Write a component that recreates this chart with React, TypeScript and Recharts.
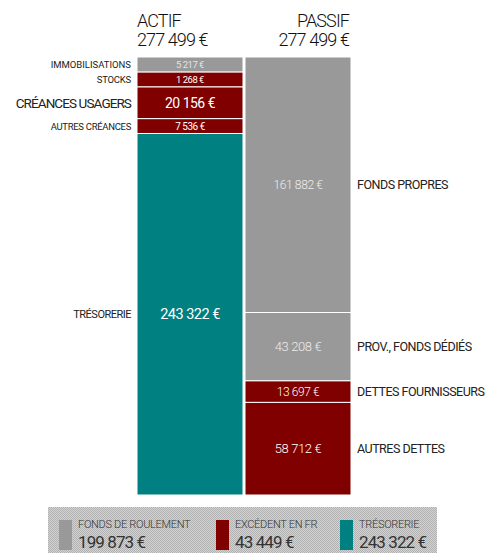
import { BarChart, Bar, XAxis, YAxis, LabelList } from 'recharts';

const columns = ['ACTIF', 'PASSIF'];
const columnTotals = [277499, 277499];

const actifLabels = ['IMMOBILISATIONS', 'STOCKS', 'CRÉANCES USAGERS', 'AUTRES CRÉANCES', 'TRÉSORERIE'];
const actifValues = [5217, 1268, 20156, 7536, 243322];

const passifLabels = ['FONDS PROPRES', 'PROV., FONDS DÉDIÉS', 'DETTES FOURNISSEURS', 'AUTRES DETTES'];
const passifValues = [161882, 43208, 13697, 58712];

const legendLabels = ['FONDS DE ROULEMENT', 'EXCÉDENT EN FR', 'TRÉSORERIE'];
const legendValues = [199873, 43449, 243322];

// styles
const FONT = "Roboto, 'Noto Sans', sans-serif";
const LIGHT = 300;
const GRAY = '#999999';
const RED = '#800000';
const TEAL = '#008080';
const actifColors = [GRAY, RED, RED, RED, TEAL];
const passifColors = [GRAY, GRAY, RED, RED];
const legendColors = [GRAY, RED, TEAL];
const actifNameSize = [9.5, 9.5, 13.5, 9.5, 11];
const actifNameSpacing = [0, -0.2, -0.9, -0.3, -0.5];
const actifValueSize = [9.5, 9.5, 14, 10, 14.5];
const passifValueSize = [12, 13, 12, 13];
const PASSIF_NAME_SIZE = 12.5;
const HALF_BAR = 53;

// small segments get a minimum height, the largest asset absorbs the difference
const MIN_SHARE = 0.034;
const actifDrawn = actifValues.map((v, i) =>
  i < actifValues.length - 1 ? Math.max(v, columnTotals[0] * MIN_SHARE) : 0
);
actifDrawn[actifDrawn.length - 1] =
  columnTotals[0] - actifDrawn.slice(0, -1).reduce((s, v) => s + v, 0);

const fmt = (v: number) => v.toString().replace(/\B(?=(\d{3})+(?!\d))/g, ' ') + ' €';

const rows = columns.map((name, c) => {
  const row: Record<string, string | number> = { name };
  actifDrawn.forEach((v, i) => (row['a' + i] = c === 0 ? v : 0));
  passifValues.forEach((v, i) => (row['p' + i] = c === 1 ? v : 0));
  return row;
});

function Heading(props: any) {
  const { x, index } = props;
  const left = index === 0;
  const tx = left ? x - HALF_BAR : x + HALF_BAR - 2;
  return (
    <g fontFamily={FONT} fontWeight={LIGHT} fill="#111" textAnchor={left ? 'start' : 'end'} fontSize={18} letterSpacing={-0.9}>
      <text x={tx} y={26.5}>{columns[index]}</text>
      <text x={tx} y={46}>{fmt(columnTotals[index])}</text>
    </g>
  );
}

const actifLabel = (i: number) => (props: any) => {
  const { x, y, width, height } = props;
  if (!height || height < 1) return null;
  const cy = y + height / 2;
  return (
    <g fontFamily={FONT}>
      <text x={x - 6} y={cy} textAnchor="end" dominantBaseline="central" fontSize={actifNameSize[i]}
        letterSpacing={actifNameSpacing[i]} fill="#222">
        {actifLabels[i]}
      </text>
      <text x={x + width / 2} y={cy} textAnchor="middle" dominantBaseline="central" fontSize={actifValueSize[i]}
        letterSpacing={-0.5} fill={actifColors[i] === GRAY ? '#e4e4e4' : '#fff'}>
        {fmt(actifValues[i])}
      </text>
    </g>
  );
};

const passifLabel = (i: number) => (props: any) => {
  const { x, y, width, height } = props;
  if (!height || height < 1) return null;
  const cy = y + height / 2;
  return (
    <g fontFamily={FONT}>
      <text x={x + width + 6} y={cy} textAnchor="start" dominantBaseline="central" fontSize={PASSIF_NAME_SIZE}
        letterSpacing={-0.5} fill="#222">
        {passifLabels[i]}
      </text>
      <text x={x + width / 2} y={cy} textAnchor="middle" dominantBaseline="central" fontSize={passifValueSize[i]}
        fontWeight={LIGHT} letterSpacing={-0.4} fill={passifColors[i] === GRAY ? '#ececec' : '#fff'}>
        {fmt(passifValues[i])}
      </text>
    </g>
  );
};

const actifOrder = actifValues.map((_, i) => i).reverse();
const passifOrder = passifValues.map((_, i) => i).reverse();

export default function App() {
  return (
    <div style={{ position: 'absolute', left: 0, top: 0, width: 494, height: 553, overflow: 'hidden', background: '#fff' }}>
      <BarChart width={494} height={500} data={rows} margin={{ top: 7, right: 142, bottom: 5, left: 136 }} barCategoryGap={1}>
        <XAxis dataKey="name" orientation="top" height={50} axisLine={false} tickLine={false} tickSize={0}
          interval={0} tick={<Heading />} />
        <YAxis hide domain={[0, columnTotals[0]]} />
        {actifOrder.map((i) => (
          <Bar key={'a' + i} dataKey={'a' + i} stackId="bal" fill={actifColors[i]} stroke="#fff" strokeWidth={1}
            isAnimationActive={false}>
            <LabelList dataKey={'a' + i} content={actifLabel(i)} />
          </Bar>
        ))}
        {passifOrder.map((i) => (
          <Bar key={'p' + i} dataKey={'p' + i} stackId="bal" fill={passifColors[i]} stroke="#fff" strokeWidth={1}
            isAnimationActive={false}>
            <LabelList dataKey={'p' + i} content={passifLabel(i)} />
          </Bar>
        ))}
      </BarChart>
      <div style={{
        position: 'absolute', left: 48, top: 507, width: 389, height: 50,
        backgroundColor: '#c4c4c4',
        backgroundImage: 'repeating-conic-gradient(#b0b0b0 0 25%, #d4d4d4 0 50%)',
        backgroundSize: '2px 2px', fontFamily: FONT, color: '#333',
      }}>
        {legendLabels.map((label, i) => {
          const left = [11, 168, 292][i];
          return (
            <div key={label} style={{ position: 'absolute', left, top: 13 }}>
              <div style={{ position: 'absolute', left: 0, top: 0, width: 13, height: 30, background: legendColors[i] }} />
              <div style={{ position: 'absolute', left: 19, top: -1, fontSize: 11, fontWeight: LIGHT, whiteSpace: 'nowrap', lineHeight: '12px', letterSpacing: -0.3 }}>{label}</div>
              <div style={{ position: 'absolute', left: 19, top: 13, fontSize: 17, whiteSpace: 'nowrap', lineHeight: '18px', letterSpacing: -0.9 }}>{fmt(legendValues[i])}</div>
            </div>
          );
        })}
      </div>
    </div>
  );
}
